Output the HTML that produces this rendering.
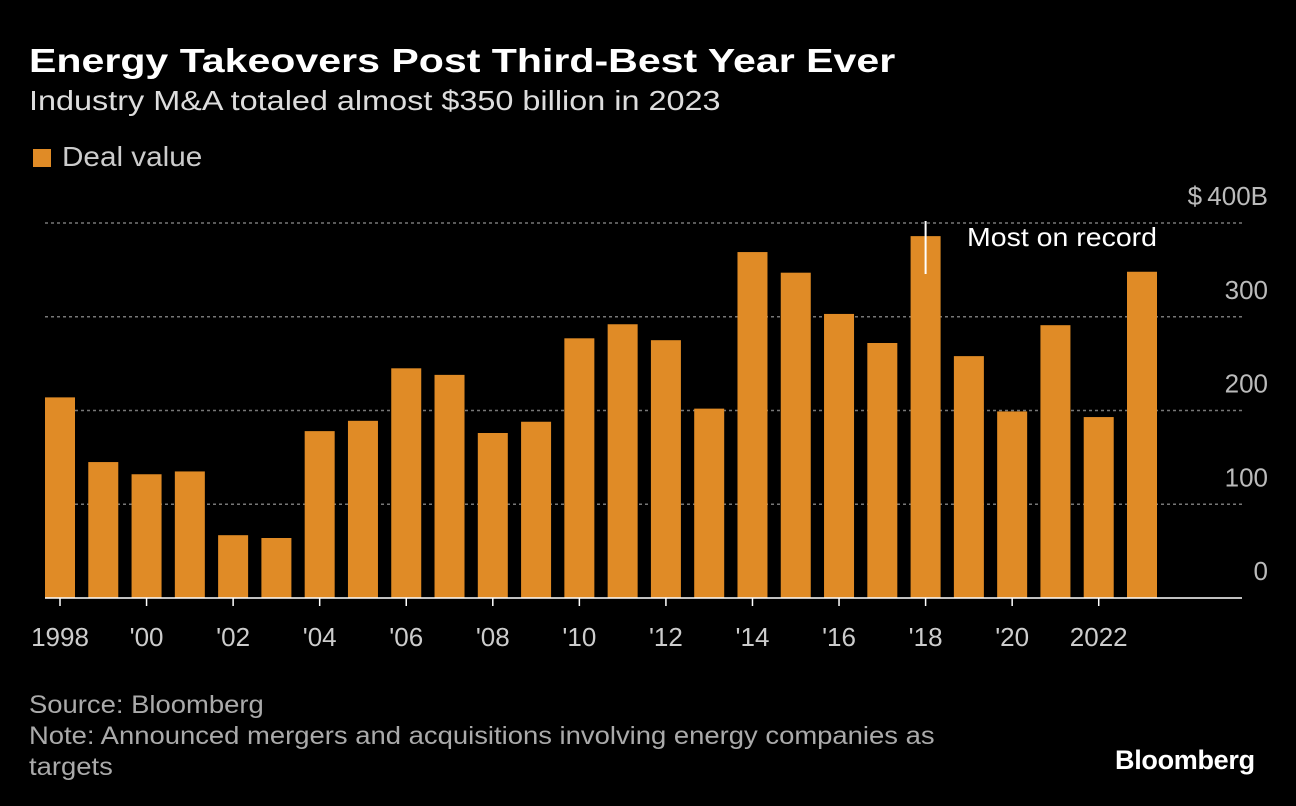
<!DOCTYPE html>
<html><head><meta charset="utf-8">
<style>
body{margin:0;background:#000;width:1296px;height:806px;overflow:hidden;font-family:"Liberation Sans",sans-serif;color:#fff}
.t{position:absolute;white-space:nowrap;transform-origin:0 0}
</style></head><body>
<div class="t" style="left:29px;top:42px;font-weight:bold;font-size:33px;transform:scaleX(1.245)">Energy Takeovers Post Third-Best Year Ever</div>
<div class="t" style="left:29px;top:85px;font-size:28px;color:#ddd;transform:scaleX(1.157)">Industry M&amp;A totaled almost $350 billion in 2023</div>
<div style="position:absolute;left:33px;top:149px;width:18px;height:18px;background:#e08b26"></div>
<div class="t" style="left:62px;top:141px;font-size:28px;color:#ccc;transform:scaleX(1.06)">Deal value</div>
<svg id="chart" width="1296" height="806" style="position:absolute;left:0;top:0"></svg>
<div class="t" style="left:29px;top:690px;font-size:25px;color:#aaa;line-height:31px;transform:scaleX(1.097)">Source: Bloomberg<br>Note: Announced mergers and acquisitions involving energy companies as<br>targets</div>
<div class="t" style="left:1115px;top:745px;font-weight:bold;font-size:27px;letter-spacing:-0.3px">Bloomberg</div>
<script>
const years=[1998,1999,2000,2001,2002,2003,2004,2005,2006,2007,2008,2009,2010,2011,2012,2013,2014,2015,2016,2017,2018,2019,2020,2021,2022,2023];
const values=[214,145,132,135,67,64,178,189,245,238,176,188,277,292,275,202,369,347,303,272,386,258,199,291,193,348];
const yTicks=[0,100,200,300,400];
const yTickLabels=["0","100","200","300","$\u2009400B"];
const xLabels={1998:"1998",2000:"'00",2002:"'02",2004:"'04",2006:"'06",2008:"'08",2010:"'10",2012:"'12",2014:"'14",2016:"'16",2018:"'18",2020:"'20",2022:"2022"};
const NS="http://www.w3.org/2000/svg";
const svg=document.getElementById('chart');
const y=v=>598-v*0.9375;
const x=yr=>60+(yr-1998)*43.28;
function mk(tag,attrs){const e=document.createElementNS(NS,tag);for(const k in attrs)e.setAttribute(k,attrs[k]);svg.appendChild(e);return e;}
yTicks.forEach((t,i)=>{
  if(t>0){const g=mk('line',{x1:45,x2:1242,y1:y(t),y2:y(t),stroke:'#777','stroke-width':1.5,'stroke-dasharray':'3,3'});
  
  }
  const l=mk('text',{x:1268,y:y(t)-18,'text-anchor':'end',fill:'#bbb','font-size':26,'font-family':'Liberation Sans, sans-serif'});
  l.textContent=yTickLabels[i];
  
  
});
years.forEach((yr,i)=>{
  const b=mk('rect',{x:x(yr)-15,y:y(values[i]),width:30,height:598-y(values[i]),fill:'#e08b26'});
  
  
  if(xLabels[yr]){
    const tk=mk('line',{x1:x(yr),x2:x(yr),y1:598,y2:606,stroke:'#fff','stroke-width':1.5});
    
    
    const l=mk('text',{x:x(yr),y:646,'text-anchor':'middle',fill:'#ccc','font-size':26,'font-family':'Liberation Sans, sans-serif'});
    l.textContent=xLabels[yr];
    
    
  }
});
const ax=mk('line',{x1:45,x2:1242,y1:598,y2:598,stroke:'#fff','stroke-width':1.5});


const al=mk('line',{x1:x(2018),x2:x(2018),y1:221,y2:274,stroke:'#fff','stroke-width':2});


const at=mk('text',{x:967,y:246,fill:'#fff','font-size':26,'font-family':'Liberation Sans, sans-serif',textLength:190,lengthAdjust:'spacingAndGlyphs'});
at.textContent='Most on record';


</script>
</body></html>
